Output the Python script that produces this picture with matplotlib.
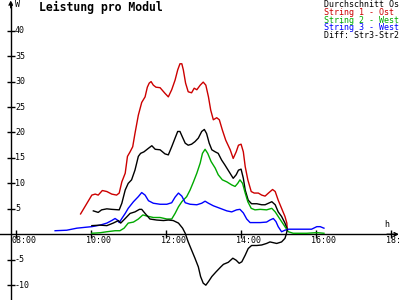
import matplotlib
matplotlib.use("Agg")
import matplotlib.pyplot as plt

# time in hours, power in W
red_t = [9.73, 10.03, 10.12, 10.20, 10.31, 10.43, 10.56, 10.69, 10.76, 10.83, 10.92, 10.98, 11.05, 11.12,
         11.18, 11.27, 11.36, 11.45, 11.51, 11.56, 11.61, 11.67, 11.74, 11.85, 11.98, 12.07, 12.16, 12.25,
         12.32, 12.38, 12.43, 12.47, 12.53, 12.60, 12.69, 12.76, 12.83, 12.92, 13.00, 13.07, 13.14, 13.20,
         13.27, 13.36, 13.43, 13.51, 13.60, 13.72, 13.80, 13.88, 13.94, 14.01, 14.07, 14.12, 14.19, 14.28,
         14.36, 14.47, 14.56, 14.65, 14.74, 14.85, 14.92, 15.00, 15.09, 15.18, 15.23, 15.24]
red_v = [4.0, 7.7, 7.9, 7.7, 8.6, 8.4, 7.9, 7.7, 8.1, 10.3, 12.0, 15.3, 16.2, 17.2,
         19.8, 23.4, 25.9, 27.0, 28.9, 29.7, 30.0, 29.3, 28.9, 28.8, 27.7, 27.0, 28.4, 30.3,
         32.3, 33.5, 33.5, 32.3, 29.7, 28.0, 27.8, 28.7, 28.4, 29.3, 29.9, 29.3, 27.0, 24.4,
         22.5, 22.9, 22.5, 20.5, 18.5, 16.6, 14.9, 16.2, 17.5, 17.7, 16.2, 13.3, 10.7, 8.4,
         8.1, 8.1, 7.7, 7.5, 8.1, 8.8, 8.4, 6.7, 5.1, 3.5, 2.2, 1.2]

avg_t = [10.07, 10.20, 10.29, 10.43, 10.56, 10.76, 10.83, 10.92, 11.00, 11.09, 11.18, 11.27, 11.33, 11.42,
         11.54, 11.63, 11.72, 11.85, 11.98, 12.07, 12.16, 12.25, 12.32, 12.38, 12.44, 12.52, 12.60, 12.69,
         12.78, 12.87, 12.96, 13.03, 13.09, 13.16, 13.23, 13.32, 13.40, 13.49, 13.58, 13.69, 13.80, 13.88,
         13.94, 14.01, 14.07, 14.12, 14.20, 14.29, 14.43, 14.56, 14.65, 14.83, 14.92, 15.00, 15.09, 15.18, 15.24]
avg_v = [4.6, 4.3, 4.8, 5.0, 4.9, 4.8, 6.1, 8.7, 10.0, 10.7, 12.6, 15.3, 15.9, 16.2,
         16.9, 17.4, 16.7, 16.6, 15.8, 15.6, 17.2, 18.9, 20.2, 20.2, 19.2, 17.9, 17.5, 17.7,
         18.2, 18.9, 20.2, 20.6, 19.8, 17.9, 16.6, 16.2, 15.9, 14.6, 13.6, 12.3, 11.0, 11.7,
         12.6, 12.8, 11.0, 8.7, 6.7, 6.0, 6.0, 5.8, 5.8, 6.4, 5.8, 4.4, 3.5, 2.2, 1.0]

s3_t = [9.05, 9.36, 9.63, 9.89, 10.03, 10.25, 10.43, 10.56, 10.65, 10.71, 10.76, 10.83, 10.92, 11.00,
        11.14, 11.27, 11.36, 11.45, 11.54, 11.67, 11.85, 12.03, 12.16, 12.25, 12.34, 12.43, 12.52, 12.65,
        12.83, 12.96, 13.05, 13.14, 13.27, 13.45, 13.63, 13.76, 13.89, 13.98, 14.07, 14.16, 14.25, 14.52,
        14.69, 14.78, 14.87, 14.94, 15.00, 15.09, 15.18, 15.27, 15.58, 15.89, 16.03, 16.12, 16.22]
s3_v = [0.7, 0.8, 1.2, 1.4, 1.5, 1.8, 2.2, 2.7, 3.1, 2.8, 2.3, 3.1, 4.1, 5.1,
        6.4, 7.4, 8.2, 7.7, 6.6, 6.1, 5.9, 5.9, 6.2, 7.3, 8.1, 7.5, 6.2, 5.9,
        5.8, 6.1, 6.5, 6.1, 5.6, 5.1, 4.6, 4.4, 4.8, 4.9, 4.2, 3.0, 2.3, 2.3,
        2.4, 2.8, 3.1, 2.5, 1.5, 0.5, 0.8, 1.0, 1.0, 1.0, 1.5, 1.5, 1.2]

s2_t = [10.03, 10.25, 10.43, 10.65, 10.78, 10.89, 11.00, 11.14, 11.27, 11.39, 11.49, 11.67, 11.85, 12.03,
        12.16, 12.25, 12.34, 12.43, 12.56, 12.65, 12.74, 12.83, 12.92, 12.98, 13.05, 13.12, 13.21, 13.32,
        13.40, 13.51, 13.63, 13.76, 13.85, 13.92, 13.98, 14.05, 14.12, 14.19, 14.28, 14.38, 14.52, 14.69,
        14.83, 14.92, 15.00, 15.09, 15.18, 15.27, 15.40, 15.76, 15.98, 16.07, 16.22]
s2_v = [0.2, 0.3, 0.5, 0.7, 0.7, 1.2, 2.2, 2.4, 3.0, 3.8, 3.6, 3.3, 3.3, 3.0,
        3.0, 4.1, 5.4, 6.4, 7.4, 8.7, 10.3, 12.0, 14.0, 15.9, 16.7, 15.9, 14.3, 13.0,
        11.7, 10.7, 10.3, 9.7, 9.4, 10.0, 10.7, 10.0, 8.1, 6.4, 5.1, 4.8, 4.9, 4.8,
        5.1, 4.4, 3.5, 2.5, 1.5, 0.5, 0.2, 0.2, 0.3, 0.3, 0.2]

diff_t = [10.03, 10.25, 10.43, 10.60, 10.74, 10.80, 10.92, 11.05, 11.18, 11.30, 11.36, 11.45, 11.58, 11.76,
          11.94, 12.07, 12.20, 12.34, 12.45, 12.52, 12.60, 12.69, 12.78, 12.87, 12.93, 13.00, 13.07, 13.14,
          13.23, 13.34, 13.47, 13.54, 13.67, 13.79, 13.88, 13.96, 14.03, 14.12, 14.20, 14.29, 14.43, 14.56,
          14.69, 14.78, 14.96, 15.09, 15.18, 15.21, 15.24]
diff_v = [1.7, 1.8, 1.7, 2.2, 2.7, 2.2, 3.1, 4.1, 4.4, 4.9, 4.9, 4.1, 3.0, 2.8,
          2.7, 2.8, 2.7, 2.2, 1.2, 0.2, -1.5, -3.1, -4.7, -6.4, -8.3, -9.6, -10.0, -9.3,
          -8.3, -7.4, -6.4, -5.9, -5.5, -4.7, -5.1, -5.7, -5.4, -4.1, -2.8, -2.2, -2.2, -2.1,
          -1.8, -1.5, -1.8, -1.5, -0.8, -0.1, 0.8]

x_ticks = [8, 10, 12, 14, 16, 18]
# the last label and the first legend entry run off the right edge in the original
x_labels = ["08:00", "10:00", "12:00", "14:00", "16:00", "18:"]
y_ticks = [-10, -5, 5, 10, 15, 20, 25, 30, 35, 40]

legend_names = ["Durchschnitt Os", "String 1 - Ost", "String 2 - West", "String 3 - West", "Diff: Str3-Str2"]

RED = "#cc0000"
GREEN = "#00aa00"
BLUE = "#0000ff"
mono = "DejaVu Sans Mono"

fig = plt.figure(figsize=(4, 3), dpi=100)
ax = fig.add_axes([0, 0, 1, 1])
ax.set_xlim(7.581, 18.248)
ax.set_ylim(-12.91, 46.03)
ax.axis("off")

y_axis_x = 7.867
lw = 1.0

# axes with arrows
ax.plot([y_axis_x, y_axis_x], [-12.91, 45.5], color="k", lw=lw)
ax.plot([7.581, 18.15], [0, 0], color="k", lw=lw)
ax.annotate("", xy=(y_axis_x, 45.95), xytext=(y_axis_x, 44.5),
            arrowprops=dict(arrowstyle="->", color="k", lw=lw, shrinkA=0, shrinkB=0, mutation_scale=6))
ax.annotate("", xy=(18.22, 0), xytext=(17.9, 0),
            arrowprops=dict(arrowstyle="->", color="k", lw=lw, shrinkA=0, shrinkB=0, mutation_scale=6))

# tick marks
ax.plot(x_ticks, [0] * len(x_ticks), ls="none", marker="|", ms=5.5, mew=1, color="k")
ax.plot([y_axis_x] * len(y_ticks), y_ticks, ls="none", marker="_", ms=5.5, mew=1, color="k")

for t, lab in zip(x_ticks, x_labels):
    ax.text(t - 0.115, -1.25, lab, ha="left", va="center", fontsize=6, family=mono)
for v in y_ticks:
    ax.text(y_axis_x + 0.115, v, str(v), ha="left", va="center", fontsize=6, family=mono)

ax.text(17.89, 1.85, "h", ha="center", va="center", fontsize=6, family=mono)
ax.text(7.97, 45.1, "W", ha="left", va="center", fontsize=6, family=mono)

# series
ax.plot(red_t, red_v, color=RED, lw=lw)
ax.plot(avg_t, avg_v, color="k", lw=lw)
ax.plot(s2_t, s2_v, color=GREEN, lw=lw)
ax.plot(s3_t, s3_v, color=BLUE, lw=lw)
ax.plot(diff_t, diff_v, color="k", lw=lw)

fig.text(39 / 400, 1 - 7 / 300, "Leistung pro Modul", ha="left", va="center",
         fontsize=8.3, family=mono, weight="bold")

legend_colors = ["k", RED, GREEN, BLUE, "k"]
for i, (name, c) in enumerate(zip(legend_names, legend_colors)):
    fig.text(324 / 400, 1 - (4.5 + 7.8 * i) / 300, name, ha="left", va="center",
             fontsize=6, family=mono, color=c)

fig.savefig("out.png", dpi=100)
